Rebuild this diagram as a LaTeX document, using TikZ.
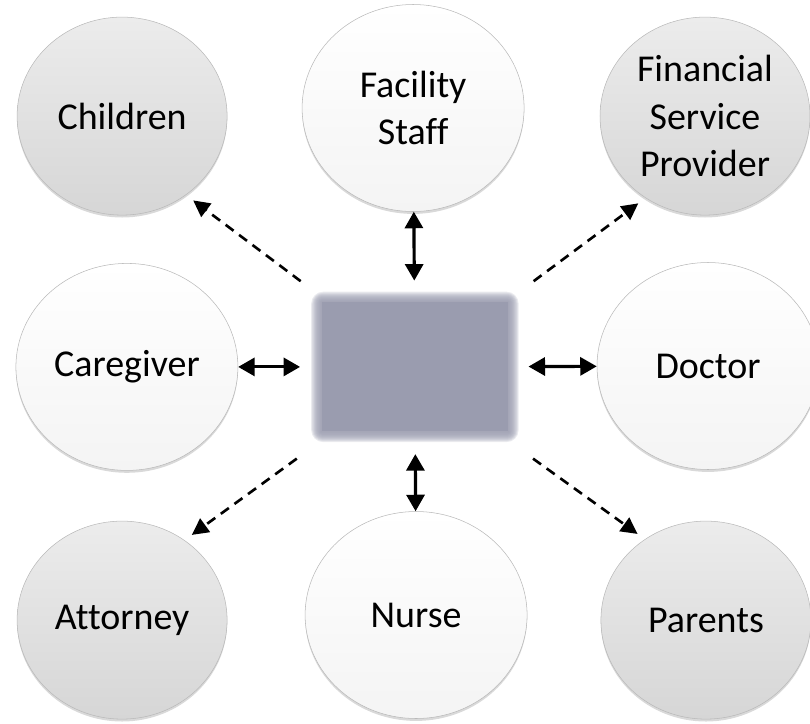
\documentclass[tikz,border=0pt]{standalone}
\usepackage{fontspec}
\setmainfont[Ligatures=NoCommon]{Carlito}
\usetikzlibrary{arrows.meta,shadows,shapes.geometric}
\definecolor{grayhi}{RGB}{236,236,236}
\definecolor{graymid}{RGB}{218,218,218}
\definecolor{graylo}{RGB}{214,214,214}
\definecolor{whitelo}{RGB}{244,244,244}
\definecolor{hubcol}{RGB}{154,156,175}

\begin{document}
\begin{tikzpicture}
\tikzstyle{ball1}=[ellipse, draw=gray!55, line width=0.5pt, inner sep=0pt, align=center,
  top color=grayhi, middle color=graymid, bottom color=graylo,
  drop shadow={shadow xshift=0pt, shadow yshift=-0.08cm, opacity=0.3},
  minimum width=7cm, minimum height=6.6cm, font=\fontsize{36}{45}\selectfont]
\tikzstyle{ball2}=[ball1, top color=white, middle color=white, bottom color=whitelo,
  minimum width=7.4cm, minimum height=6.9cm]
\tikzstyle{twoway}=[{Triangle[length=0.55cm,width=0.6cm]}-{Triangle[length=0.55cm,width=0.6cm]}, line width=3pt]
\tikzstyle{oneway}=[-{Triangle[length=0.55cm,width=0.55cm]}, line width=2.5pt, dash pattern=on 0.33cm off 0.23cm]

\useasboundingbox (0,0) rectangle (27,-24.1);

% outer ring
\node[ball1] (ch) at (4.07,-3.87) {Children};
\node[ball2] (fs) at (13.77,-3.6) {Facility\\Staff};
\node[ball1] (fp) at (23.5,-3.87) {Financial\\Service\\Provider};
\node[ball2] (cg) at (4.23,-12.23) {Caregiver};
\node[ball2] (dr) at (23.6,-12.2) {Doctor};
\node[ball1] (at) at (4.07,-20.67) {Attorney};
\node[ball2] (nu) at (13.87,-20.5) {Nurse};
\node[ball1] (pa) at (23.53,-20.67) {Parents};

% blurred box in the middle
\node[rectangle, fill=hubcol, minimum width=6.2cm, minimum height=4.3cm, inner sep=0pt] (hub) at (13.83,-12.23) {};
\foreach \k in {1,...,10}
  \fill[hubcol, opacity=0.2, rounded corners=0.04*\k cm]
    ([shift={(-0.035*\k,0.035*\k)}]hub.north west) rectangle ([shift={(0.035*\k,-0.035*\k)}]hub.south east);

\draw[twoway] (fs) -- (hub) [shorten >=0.72cm];
\draw[twoway] (nu) -- (hub) [shorten >=0.75cm];
\draw[twoway] (cg) -- (hub) [shorten >=0.72cm];
\draw[twoway] (dr) -- (hub) [shorten >=0.68cm];

\draw[oneway, shorten >=0.3cm] ([shift={(-0.7,0.7)}]hub.north west) -- (ch.-51);
\draw[oneway, shorten >=0.3cm] ([shift={(0.85,0.7)}]hub.north east) -- (fp.-126);
\draw[oneway, shorten >=0.3cm] ([shift={(-0.83,-0.9)}]hub.south west) -- (at.52);
\draw[oneway, shorten >=0.3cm] ([shift={(0.83,-0.9)}]hub.south east) -- (pa.127);

\end{tikzpicture}
\end{document}
